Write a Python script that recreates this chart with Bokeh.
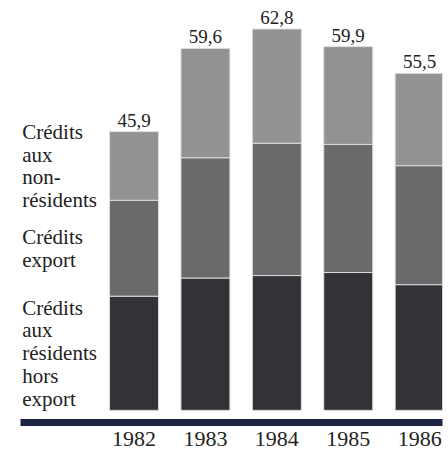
from bokeh.plotting import figure
from bokeh.models import ColumnDataSource, Range1d, FixedTicker
from bokeh.embed import file_html
from bokeh.resources import INLINE
from bokeh.core.properties import value

# ---- data ----
years = ["1982", "1983", "1984", "1985", "1986"]
totals = [45.9, 59.6, 62.8, 59.9, 55.5]
residents_hors_export = [18.8, 21.8, 22.2, 22.7, 20.7]
credits_export = [15.8, 19.8, 21.8, 21.1, 19.6]
non_residents = [11.3, 18.0, 18.8, 16.1, 15.2]
series_labels = ["Crédits\naux\nrésidents\nhors\nexport", "Crédits\nexport", "Crédits\naux\nnon-\nrésidents"]

colors = ["#333237", "#6a6a6d", "#929295"]
FONT = "Liberation Serif"

idx = list(range(len(years)))
src = ColumnDataSource(dict(
    x=idx,
    dark=residents_hors_export,
    mid=credits_export,
    light=non_residents,
    total=totals,
    total_lbl=[f"{v:.1f}".replace(".", ",") for v in totals],
))

p = figure(width=448, height=452,
           x_range=Range1d(-1.59, 4.32), y_range=Range1d(-2.0, 67.5),
           output_backend="svg", toolbar_location=None,
           y_axis_location=None,
           min_border_left=20, min_border_right=6,
           min_border_top=0, min_border_bottom=30)
p.outline_line_color = None
p.grid.visible = False
p.background_fill_color = "white"
p.border_fill_color = "white"

p.vbar_stack(["dark", "mid", "light"], x="x", width=0.686, source=src,
             color=colors, line_color="#dcdcdc", line_width=1)

# value labels above bars
p.text(x="x", y="total", text="total_lbl", source=src,
       text_align="center", text_baseline="bottom", y_offset=-5,
       text_font=value(FONT), text_font_size="19px", text_color="#222222")

# series labels beside the first bar, centred on its segments
b0 = residents_hors_export[0]
b1 = b0 + credits_export[0]
b2 = b1 + non_residents[0]
mids = [b0 / 2, (b0 + b1) / 2, (b1 + b2) / 2]
lab_x = [-1.565] * 3
p.text(x=lab_x, y=mids, text=series_labels,
       text_align="left", text_baseline="middle", text_line_height=0.95,
       text_font=value(FONT), text_font_size="21px", text_color="#222222")

ax = p.xaxis[0]
ax.ticker = FixedTicker(ticks=idx)
ax.major_label_overrides = {i: y for i, y in zip(idx, years)}
ax.axis_line_width = 7
ax.axis_line_color = "#1e2444"
ax.major_tick_line_color = None
ax.minor_tick_line_color = None
ax.major_tick_out = 0
ax.major_label_standoff = 9
ax.major_label_text_font = FONT
ax.major_label_text_font_size = "22px"
ax.major_label_text_color = "#222222"

open("out.html", "w").write(file_html(p, INLINE))
